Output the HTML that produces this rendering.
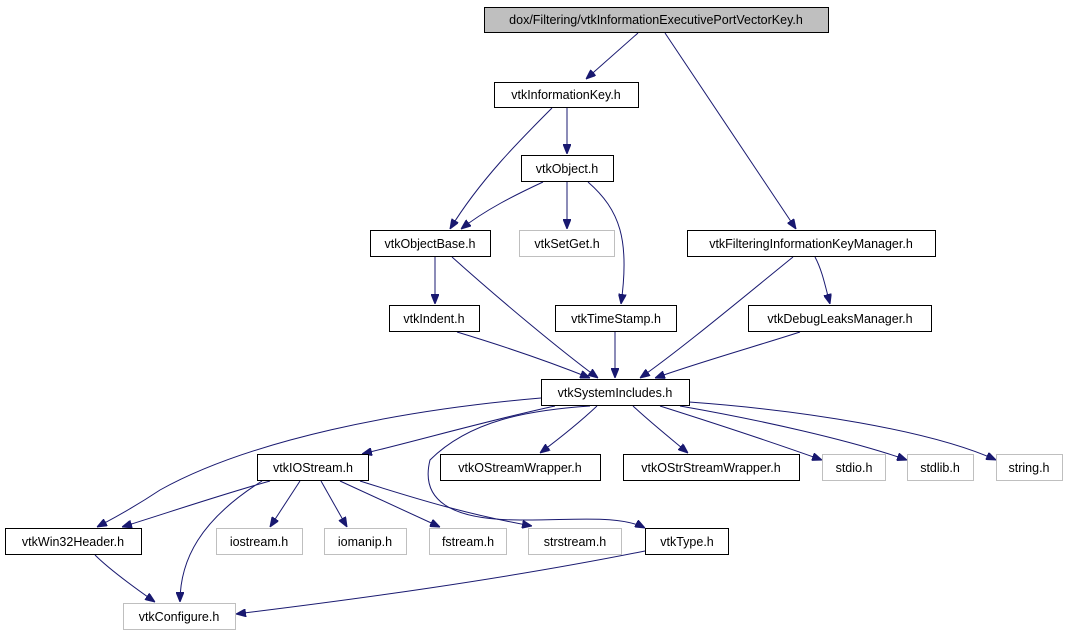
<!DOCTYPE html>
<html><head><meta charset="utf-8"><style>
html,body{margin:0;padding:0;background:#fff;width:1068px;height:635px;overflow:hidden}
text{font-family:"Liberation Sans",sans-serif;font-size:12.5px;fill:#000}
</style></head><body>
<svg width="1068" height="635" viewBox="0 0 1068 635" xmlns="http://www.w3.org/2000/svg">
<defs><marker id="a" markerWidth="10" markerHeight="8" refX="10" refY="4" orient="auto" markerUnits="userSpaceOnUse"><path d="M0,0 L10,4 L0,8 z" fill="#191970" stroke="#191970"/></marker></defs>
<g fill="none" stroke="#191970" stroke-width="1" marker-end="url(#a)">
<path d="M638,33 L586,79"/>
<path d="M665,33 L796,229"/>
<path d="M552,108 C520,140 480,180 450,229"/>
<path d="M567,108 L567,154"/>
<path d="M543,182 C515,195 485,210 461,229"/>
<path d="M567,182 L567,229"/>
<path d="M588,182 C620,210 630,240 621,304"/>
<path d="M435,257 L435,304"/>
<path d="M452,257 C500,300 560,350 598,378"/>
<path d="M793,257 C740,300 680,350 640,378"/>
<path d="M815,257 C822,270 825,285 830,304"/>
<path d="M457,332 C500,345 550,362 590,378"/>
<path d="M615,332 L615,378"/>
<path d="M800,332 C760,345 700,362 655,378"/>
<path d="M541,398 C400,410 250,440 160,490 C130,510 110,520 97,527"/>
<path d="M555,406 C490,420 420,440 362,454"/>
<path d="M590,406 C530,410 470,420 430,460 C420,500 450,520 520,520 C580,520 620,515 645,528"/>
<path d="M597,406 C580,422 560,438 540,453"/>
<path d="M633,406 C650,422 670,438 688,453"/>
<path d="M660,406 C720,425 780,445 822,460"/>
<path d="M680,406 C760,420 850,440 907,460"/>
<path d="M689,402 C800,410 930,430 996,460"/>
<path d="M270,481 C220,495 170,512 122,527"/>
<path d="M262,481 C200,520 180,560 180,602"/>
<path d="M300,481 L270,527"/>
<path d="M321,481 L347,527"/>
<path d="M340,481 L440,527"/>
<path d="M360,481 C420,500 470,515 532,526"/>
<path d="M95,555 C110,570 135,588 155,602"/>
<path d="M645,551 C500,580 350,600 236,614"/>
</g>
<g stroke-width="1">
<rect x="484.5" y="7.5" width="344" height="25" fill="#bfbfbf" stroke="#000"/>
<rect x="494.5" y="82.5" width="144" height="25" fill="#fff" stroke="#000"/>
<rect x="521.5" y="155.5" width="92" height="26" fill="#fff" stroke="#000"/>
<rect x="370.5" y="230.5" width="120" height="26" fill="#fff" stroke="#000"/>
<rect x="519.5" y="230.5" width="95" height="26" fill="#fff" stroke="#bfbfbf"/>
<rect x="687.5" y="230.5" width="248" height="26" fill="#fff" stroke="#000"/>
<rect x="389.5" y="305.5" width="90" height="26" fill="#fff" stroke="#000"/>
<rect x="555.5" y="305.5" width="121" height="26" fill="#fff" stroke="#000"/>
<rect x="748.5" y="305.5" width="183" height="26" fill="#fff" stroke="#000"/>
<rect x="541.5" y="379.5" width="148" height="26" fill="#fff" stroke="#000"/>
<rect x="257.5" y="454.5" width="111" height="26" fill="#fff" stroke="#000"/>
<rect x="440.5" y="454.5" width="160" height="26" fill="#fff" stroke="#000"/>
<rect x="623.5" y="454.5" width="176" height="26" fill="#fff" stroke="#000"/>
<rect x="822.5" y="454.5" width="63" height="26" fill="#fff" stroke="#bfbfbf"/>
<rect x="907.5" y="454.5" width="66" height="26" fill="#fff" stroke="#bfbfbf"/>
<rect x="996.5" y="454.5" width="66" height="26" fill="#fff" stroke="#bfbfbf"/>
<rect x="5.5" y="528.5" width="136" height="26" fill="#fff" stroke="#000"/>
<rect x="216.5" y="528.5" width="86" height="26" fill="#fff" stroke="#bfbfbf"/>
<rect x="324.5" y="528.5" width="82" height="26" fill="#fff" stroke="#bfbfbf"/>
<rect x="429.5" y="528.5" width="77" height="26" fill="#fff" stroke="#bfbfbf"/>
<rect x="528.5" y="528.5" width="93" height="26" fill="#fff" stroke="#bfbfbf"/>
<rect x="645.5" y="528.5" width="83" height="26" fill="#fff" stroke="#000"/>
<rect x="123.5" y="603.5" width="112" height="26" fill="#fff" stroke="#bfbfbf"/>
</g>
<g text-anchor="middle">
<text x="656" y="24">dox/Filtering/vtkInformationExecutivePortVectorKey.h</text>
<text x="566" y="99">vtkInformationKey.h</text>
<text x="567" y="173">vtkObject.h</text>
<text x="430" y="248">vtkObjectBase.h</text>
<text x="567" y="248">vtkSetGet.h</text>
<text x="811" y="248">vtkFilteringInformationKeyManager.h</text>
<text x="434" y="323">vtkIndent.h</text>
<text x="616" y="323">vtkTimeStamp.h</text>
<text x="840" y="323">vtkDebugLeaksManager.h</text>
<text x="615" y="397">vtkSystemIncludes.h</text>
<text x="313" y="472">vtkIOStream.h</text>
<text x="520" y="472">vtkOStreamWrapper.h</text>
<text x="711" y="472">vtkOStrStreamWrapper.h</text>
<text x="854" y="472">stdio.h</text>
<text x="940" y="472">stdlib.h</text>
<text x="1029" y="472">string.h</text>
<text x="73" y="546">vtkWin32Header.h</text>
<text x="259" y="546">iostream.h</text>
<text x="365" y="546">iomanip.h</text>
<text x="468" y="546">fstream.h</text>
<text x="575" y="546">strstream.h</text>
<text x="687" y="546">vtkType.h</text>
<text x="179" y="621">vtkConfigure.h</text>
</g>
</svg>
</body></html>
